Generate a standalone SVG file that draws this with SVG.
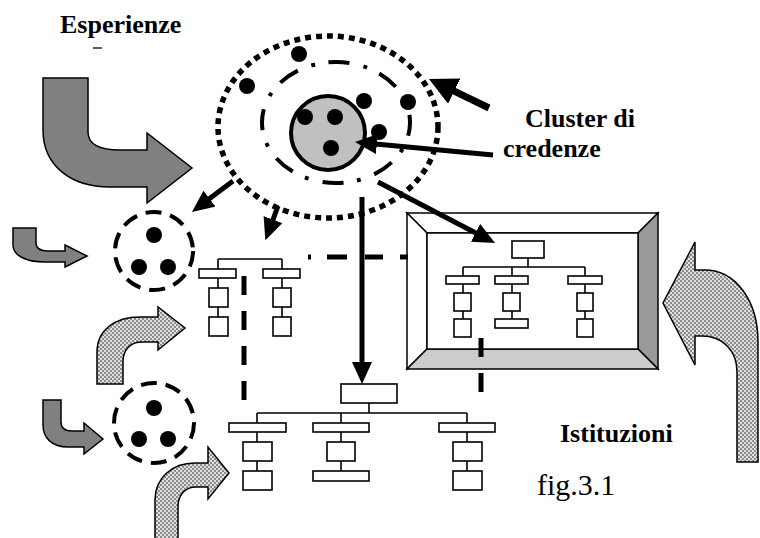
<svg xmlns="http://www.w3.org/2000/svg" width="760" height="538" viewBox="0 0 760 538">
<style>
.lbl{font-family:"Liberation Serif","Times New Roman",serif;font-weight:bold;font-size:26px;fill:#000}
.fig{font-family:"Liberation Serif","Times New Roman",serif;font-size:30px;fill:#000}
.box{fill:#fff;stroke:#000;stroke-width:1.6}
.tl{fill:none;stroke:#000;stroke-width:1.6}
.dot{fill:#000}
.arr{stroke:#000;stroke-width:5;fill:none;marker-end:url(#head)}
.dsh{stroke:#000;stroke-width:5;fill:none}
.solid{stroke:#000;stroke-width:1.5}
.bev{stroke:#000;stroke-width:1.5;stroke-linejoin:miter}
</style>
<defs>
<pattern id="hatch" width="4" height="4" patternUnits="userSpaceOnUse">
<rect width="4" height="4" fill="#e0e0e0"/>
<rect width="2" height="2" fill="#8c8c8c"/>
<rect x="2" y="2" width="2" height="2" fill="#8c8c8c"/>
</pattern>
<marker id="head" viewBox="0 0 22 20" markerUnits="userSpaceOnUse" markerWidth="22" markerHeight="20" refX="4" refY="10" orient="auto">
<path d="M0,0 L22,10 L0,20 Z" fill="#000"/>
</marker>
<marker id="headL" viewBox="0 0 28 28" markerUnits="userSpaceOnUse" markerWidth="28" markerHeight="28" refX="4" refY="14" orient="auto">
<path d="M0,0 L28,14 L0,28 Z" fill="#000"/>
</marker>
</defs>
<rect width="760" height="538" fill="#fff"/>

<!-- Labels -->
<g id="label-esperienze">
<text class="lbl" x="60" y="33">Esperienze</text>
<line x1="93" y1="48" x2="102" y2="48" stroke="#000" stroke-width="1.3"/>
</g>
<g id="label-cluster">
<text class="lbl" x="525" y="127">Cluster di</text>
<text class="lbl" x="503" y="157">credenze</text>
</g>
<g id="label-istituzioni"><text class="lbl" x="560" y="442">Istituzioni</text></g>
<g id="label-fig"><text class="fig" x="537" y="495">fig.3.1</text></g>

<!-- Big arrows -->
<g id="arrow-esperienze">
<path class="solid" fill="#808080" d="M43,78 L88,78 L88,132 C88,145 100,150 120,150 L147,150 L147,133 L192,168 L147,203 L147,187 L110,187 C70,187 43,165 43,130 Z"/>
</g>
<g id="arrow-small-1">
<path class="solid" fill="#808080" d="M13,228 H36 V243 Q36,251 48,251 H65 V245 L87,256 L65,267 V262 H45 C25,262 13,255 13,245 Z"/>
</g>
<g id="arrow-small-2">
<path class="solid" fill="#808080" d="M43,400 H61 V422 Q61,431 72,431 H84 V423 L103,439 L84,454 V447 H68 C52,447 43,438 43,425 Z"/>
</g>
<g id="arrow-hatch-1">
<path class="solid" fill="url(#hatch)" d="M97,384 V352 C97,330 115,317 140,317 H158 V307 L185,328 L158,350 V342 H142 C130,342 123,350 123,362 V384 Z"/>
</g>
<g id="arrow-hatch-2">
<path class="solid" fill="url(#hatch)" d="M155,545 V500 C155,478 172,463 195,463 H208 V447 L229,473 L208,499 V487 H196 C185,487 178,495 178,507 V545 Z"/>
</g>
<g id="arrow-hatch-3">
<path class="solid" fill="url(#hatch)" d="M737,462 V372 C737,350 722,336 702,336 H695 V365 L663,303 L695,242 V270 H705 C735,270 758,300 758,342 V462 Z"/>
</g>

<!-- Cluster -->
<g id="cluster">
<ellipse cx="328" cy="127" rx="110" ry="91" fill="none" stroke="#000" stroke-width="5.5" stroke-dasharray="6 5"/>
<ellipse cx="336" cy="122.5" rx="74" ry="60.5" fill="none" stroke="#000" stroke-width="4" pathLength="440" stroke-dasharray="22 15 4 14" stroke-dashoffset="8"/>
<circle cx="328" cy="133" r="37" fill="#c0c0c0" stroke="#000" stroke-width="4"/>
<circle class="dot" cx="305" cy="117" r="8"/>
<circle class="dot" cx="335" cy="117" r="8"/>
<circle class="dot" cx="331" cy="148" r="8"/>
<circle class="dot" cx="299" cy="54" r="8"/>
<circle class="dot" cx="247" cy="86" r="8"/>
<circle class="dot" cx="364" cy="101" r="8"/>
<circle class="dot" cx="408" cy="102" r="8"/>
<circle class="dot" cx="379" cy="132" r="8"/>
</g>

<!-- Small clusters -->
<g id="small-cluster-1">
<circle cx="154" cy="251" r="39" fill="none" stroke="#000" stroke-width="4" stroke-dasharray="16 9"/>
<circle class="dot" cx="154" cy="235" r="8"/>
<circle class="dot" cx="139" cy="267" r="8"/>
<circle class="dot" cx="168" cy="267" r="8"/>
</g>
<g id="small-cluster-2">
<circle cx="154" cy="423" r="40" fill="none" stroke="#000" stroke-width="4" stroke-dasharray="16 9"/>
<circle class="dot" cx="154" cy="408" r="8"/>
<circle class="dot" cx="139" cy="439" r="8"/>
<circle class="dot" cx="168" cy="439" r="8"/>
</g>

<!-- Small tree -->
<g id="tree-small">
<path class="tl" d="M218,259 H282 M218,259 V269 M282,259 V269 M218,278 V288 M218,307 V317 M282,278 V288 M282,307 V317"/>
<rect class="box" x="199" y="269" width="37" height="9"/>
<rect class="box" x="263" y="269" width="37" height="9"/>
<rect class="box" x="209" y="288" width="19" height="19"/>
<rect class="box" x="209" y="317" width="19" height="19"/>
<rect class="box" x="273" y="288" width="18" height="19"/>
<rect class="box" x="273" y="317" width="18" height="19"/>
</g>

<!-- Frame (Istituzioni) -->
<g id="frame">
<polygon class="bev" fill="#fff" points="407,213 658,213 638,233 427,233"/>
<polygon class="bev" fill="#fff" points="407,213 427,233 427,349 407,369"/>
<polygon class="bev" fill="#999" points="658,213 658,369 638,349 638,233"/>
<polygon class="bev" fill="#ccc" points="407,369 658,369 638,349 427,349"/>
<rect x="427" y="233" width="211" height="116" fill="#fff" stroke="#000" stroke-width="1.5"/>
</g>
<g id="tree-frame">
<path class="tl" d="M528,258 V267 M463,267 H585 M463,267 V276 M512,267 V276 M585,267 V276 M463,284 V293 M463,311 V319 M512,284 V293 M512,311 V319 M585,284 V293 M585,311 V319"/>
<rect class="box" x="512" y="241" width="32" height="17"/>
<rect class="box" x="446" y="276" width="33" height="8"/>
<rect class="box" x="495" y="276" width="33" height="8"/>
<rect class="box" x="568" y="276" width="34" height="8"/>
<rect class="box" x="454" y="293" width="17" height="18"/>
<rect class="box" x="454" y="319" width="17" height="18"/>
<rect class="box" x="503" y="293" width="17" height="18"/>
<rect class="box" x="495" y="319" width="33" height="9"/>
<rect class="box" x="577" y="293" width="16" height="18"/>
<rect class="box" x="577" y="319" width="16" height="18"/>
</g>

<!-- Bottom tree -->
<g id="tree-bottom">
<path class="tl" d="M369,403 V413 M257,413 H467 M257,413 V423 M341,413 V423 M467,413 V423 M257,432 V442 M257,461 V471 M341,432 V442 M341,461 V471 M467,432 V442 M467,461 V471"/>
<rect class="box" x="341" y="384" width="56" height="19"/>
<rect class="box" x="229" y="423" width="57" height="9"/>
<rect class="box" x="313" y="423" width="56" height="9"/>
<rect class="box" x="439" y="423" width="56" height="9"/>
<rect class="box" x="243" y="442" width="29" height="19"/>
<rect class="box" x="243" y="471" width="29" height="19"/>
<rect class="box" x="327" y="442" width="28" height="19"/>
<rect class="box" x="313" y="471" width="56" height="10"/>
<rect class="box" x="453" y="442" width="29" height="19"/>
<rect class="box" x="453" y="471" width="29" height="19"/>
</g>

<!-- Connectors -->
<g id="connectors">
<path class="dsh" d="M308,257 h3 M327,257 h20 M365,257 h18 M400,257 h8"/>
<line class="dsh" x1="244" y1="276" x2="244" y2="400" stroke-dasharray="19 16"/>
<line class="dsh" x1="481" y1="338" x2="481" y2="393" stroke-dasharray="19 16"/>
<line class="arr" x1="233" y1="181" x2="206.3" y2="201.1"/>
<line class="arr" x1="278" y1="206" x2="271.6" y2="223.3"/>
<line class="arr" x1="362" y1="197" x2="362" y2="366" stroke-width="6"/>
<line class="arr" x1="378" y1="182" x2="479.1" y2="234.7"/>
<line class="arr" x1="493" y1="155" x2="372.9" y2="143.7"/>
<line x1="489" y1="108" x2="450.6" y2="89.4" stroke="#000" stroke-width="7" marker-end="url(#headL)"/>
</g>
</svg>
